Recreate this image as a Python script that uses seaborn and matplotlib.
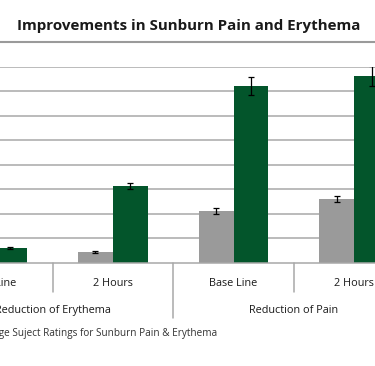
import matplotlib.pyplot as plt
from matplotlib.lines import Line2D
import numpy as np
import pandas as pd
import seaborn as sns

# values (y axis in 0..8 units, one unit per gridline)
categories = ["Base Line", "2 Hours", "Base Line ", "2 Hours "]
groups = ["Reduction of Erythema", "Reduction of Pain"]
series = ["Series 1", "Series 2"]
gray_vals = [0.50, 0.44, 2.12, 2.61]
gray_err = [0.04, 0.04, 0.12, 0.13]
green_vals = [0.62, 3.14, 7.22, 7.63]
green_err = [0.03, 0.11, 0.38, 0.40]

title = "Improvements in Sunburn Pain and Erythema"
caption = "Average Suject Ratings for Sunburn Pain & Erythema"

GRAY = "#9a9a9a"
GREEN = "#03552b"
LINE = "#a8a8a8"

df = pd.DataFrame({
    "cat": categories * 2,
    "series": [series[0]] * 4 + [series[1]] * 4,
    "value": gray_vals + green_vals,
})

sns.set_style("white")
plt.rcParams["font.family"] = ["Open Sans", "DejaVu Sans"]

fig = plt.figure(figsize=(3.75, 3.66), dpi=100)
# the reference is a crop of a wider chart, so the axes run past the canvas
ax = fig.add_axes([-0.1813, 0.2814, 1.2864, 0.5364])

sns.barplot(data=df, x="cat", y="value", hue="series", order=categories,
            hue_order=series, palette=[GRAY, GREEN], width=0.58,
            saturation=1, errorbar=None, legend=False, linewidth=0,
            ax=ax, zorder=2)

for cont, errs in zip(ax.containers, [gray_err, green_err]):
    xs = [p.get_x() + p.get_width() / 2 for p in cont.patches]
    ys = [p.get_height() for p in cont.patches]
    ax.errorbar(xs, ys, yerr=errs, fmt="none", ecolor="black",
                elinewidth=0.9, capsize=2.5, capthick=0.9, zorder=3)

ax.set_ylim(0, 8)
ax.set_xlim(-0.5, len(categories) - 0.5)
ax.set_yticks(np.arange(1, 9))
ax.yaxis.grid(True, color=LINE, linewidth=1.1, zorder=0)
ax.set_axisbelow(True)
ax.set_yticklabels([])
ax.tick_params(axis="y", length=0)
for s in ["top", "left", "right"]:
    ax.spines[s].set_visible(False)
ax.spines["bottom"].set_color(LINE)
ax.spines["bottom"].set_linewidth(1.1)

ax.set_xlabel("")
ax.set_ylabel("")
ax.set_xticks(range(len(categories)))
ax.set_xticklabels([c.strip() for c in categories], fontsize=7.8, color="#1a1a1a")
ax.tick_params(axis="x", length=0, pad=10.6)

# category separators below the axis
trans = ax.get_xaxis_transform()
px = 1 / (ax.get_position().height * fig.get_figheight() * fig.dpi)
for i in range(len(categories) - 1):
    depth = 55 if i == 1 else 29
    ax.add_line(Line2D([i + 0.5, i + 0.5], [0, -depth * px], transform=trans,
                       color=LINE, linewidth=1.1, clip_on=False))

for j, g in enumerate(groups):
    ax.text(2 * j + 0.5, -47.5 * px, g, transform=trans, ha="center",
            va="center", fontsize=7.8, color="#1a1a1a")

fig.text(189 / 375, 1 - 26 / 366, title, ha="center", va="center",
         fontsize=10.9, fontweight="bold", color="#1a1a1a")
fig.add_artist(Line2D([0, 1], [1 - 41.7 / 366] * 2, color="#9a9a9a",
                      linewidth=1.5))
fig.text(217 / 375, 1 - 333.5 / 366, caption, ha="right", va="center",
         fontsize=7.2, color="#333333")

fig.savefig("out.png", dpi=100)
